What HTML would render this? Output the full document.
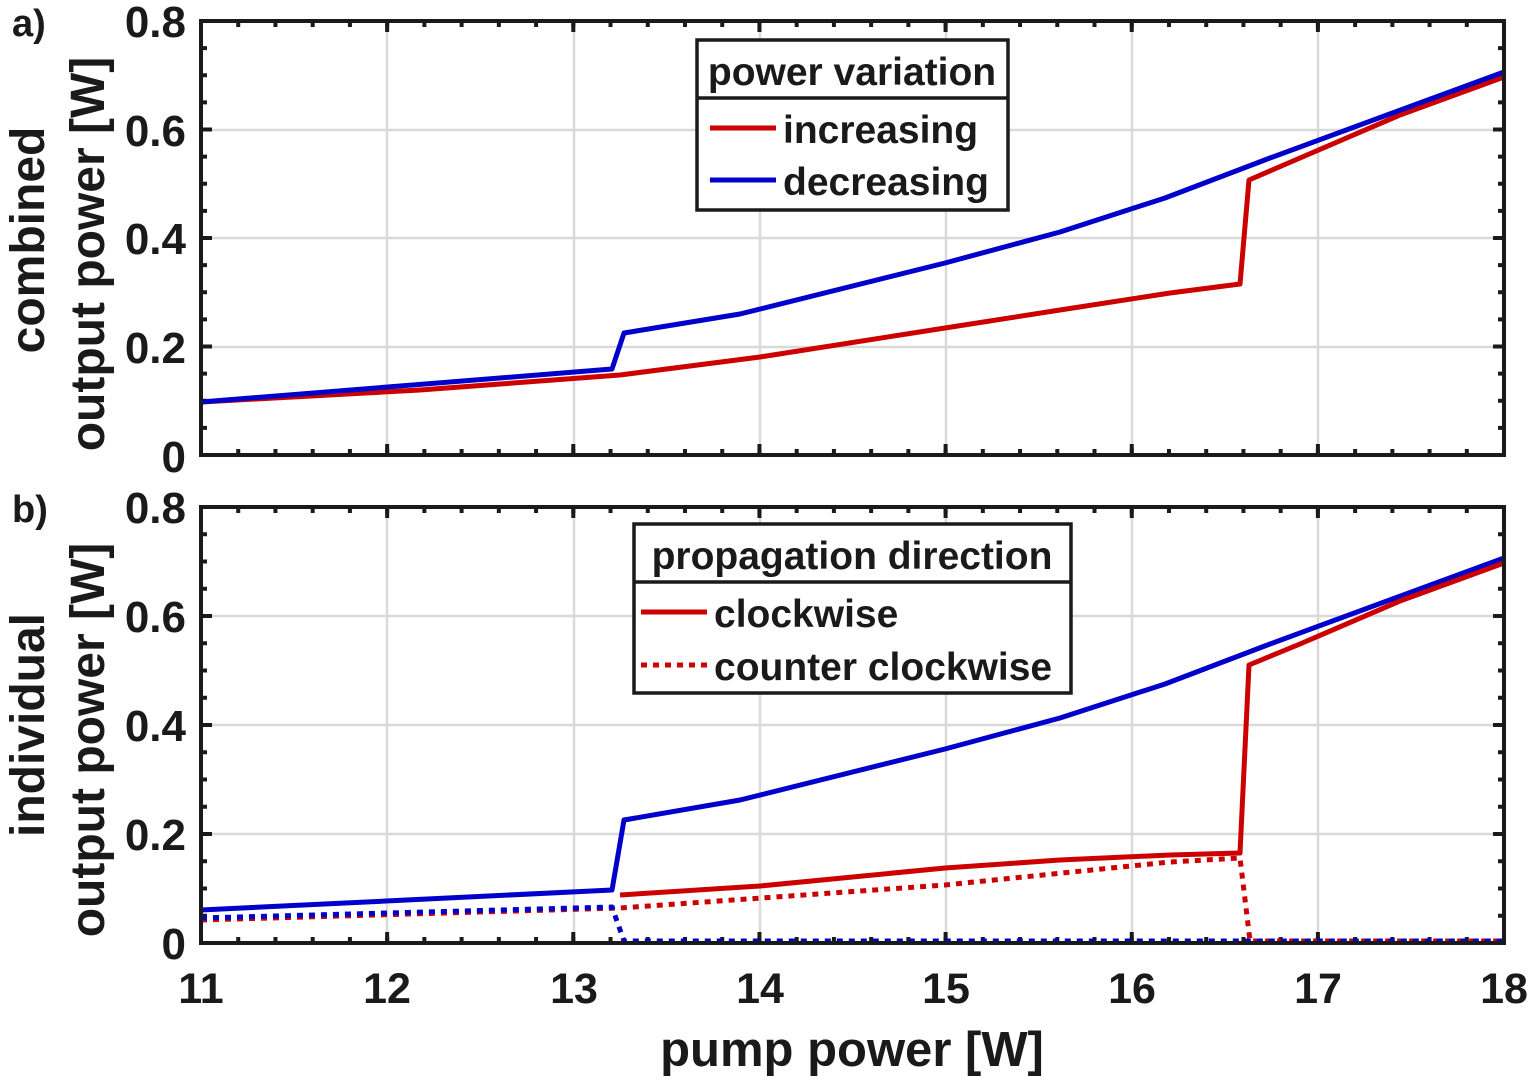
<!DOCTYPE html>
<html><head><meta charset="utf-8"><style>
html,body{margin:0;padding:0;background:#fff;}
svg text{font-family:"Liberation Sans",Arial,sans-serif;font-weight:bold;fill:#1a1a1a;}
</style></head><body>
<svg width="1534" height="1084" viewBox="0 0 1534 1084" xmlns="http://www.w3.org/2000/svg">
<g stroke="#d9d9d9" stroke-width="2.5">
  <line x1="387" y1="21" x2="387" y2="455"/><line x1="574" y1="21" x2="574" y2="455"/><line x1="760" y1="21" x2="760" y2="455"/><line x1="946" y1="21" x2="946" y2="455"/><line x1="1132" y1="21" x2="1132" y2="455"/><line x1="1318" y1="21" x2="1318" y2="455"/>
  <line x1="201" y1="347" x2="1504" y2="347"/><line x1="201" y1="238" x2="1504" y2="238"/><line x1="201" y1="130" x2="1504" y2="130"/>
  <line x1="387" y1="507" x2="387" y2="943"/><line x1="574" y1="507" x2="574" y2="943"/><line x1="760" y1="507" x2="760" y2="943"/><line x1="946" y1="507" x2="946" y2="943"/><line x1="1132" y1="507" x2="1132" y2="943"/><line x1="1318" y1="507" x2="1318" y2="943"/>
  <line x1="201" y1="834" x2="1504" y2="834"/><line x1="201" y1="725" x2="1504" y2="725"/><line x1="201" y1="616" x2="1504" y2="616"/>
</g>
<g stroke="#1a1a1a" fill="none">
  <line x1="199" y1="24" x2="1506" y2="24" stroke-width="6" stroke-dasharray="4 33.23"/>
  <line x1="199" y1="452" x2="1506" y2="452" stroke-width="6" stroke-dasharray="4 33.23"/>
  <line x1="199" y1="26.5" x2="1506" y2="26.5" stroke-width="11" stroke-dasharray="4 182.15"/>
  <line x1="199" y1="449.5" x2="1506" y2="449.5" stroke-width="11" stroke-dasharray="4 182.15"/>
  <line x1="199" y1="510" x2="1506" y2="510" stroke-width="6" stroke-dasharray="4 33.23"/>
  <line x1="199" y1="940" x2="1506" y2="940" stroke-width="6" stroke-dasharray="4 33.23"/>
  <line x1="199" y1="512.5" x2="1506" y2="512.5" stroke-width="11" stroke-dasharray="4 182.15"/>
  <line x1="199" y1="937.5" x2="1506" y2="937.5" stroke-width="11" stroke-dasharray="4 182.15"/>
  <line x1="204" y1="19" x2="204" y2="457" stroke-width="6" stroke-dasharray="4 23.125"/>
  <line x1="1501" y1="19" x2="1501" y2="457" stroke-width="6" stroke-dasharray="4 23.125"/>
  <line x1="206.5" y1="19" x2="206.5" y2="457" stroke-width="11" stroke-dasharray="4 104.5"/>
  <line x1="1498.5" y1="19" x2="1498.5" y2="457" stroke-width="11" stroke-dasharray="4 104.5"/>
  <line x1="204" y1="505" x2="204" y2="945" stroke-width="6" stroke-dasharray="4 23.25"/>
  <line x1="1501" y1="505" x2="1501" y2="945" stroke-width="6" stroke-dasharray="4 23.25"/>
  <line x1="206.5" y1="505" x2="206.5" y2="945" stroke-width="11" stroke-dasharray="4 105"/>
  <line x1="1498.5" y1="505" x2="1498.5" y2="945" stroke-width="11" stroke-dasharray="4 105"/>
</g>
<g fill="none" stroke-width="5" stroke-linejoin="round">
<polyline stroke="#cc0000" points="201,402 420,390 620,375 760,357 945,328 1060,310 1170,293 1240,284 1249,180 1300,158 1400,115 1504,77"/>
<polyline stroke="#0000cc" points="201,402 612,369 624,333 740,314 945,263 1060,232 1165,198 1270,158 1504,72"/>
<polyline stroke="#cc0000" stroke-dasharray="6,6" points="201,920 620,908 945,885 1170,862 1240,858 1250,941 1504,941"/>
<polyline stroke="#0000cc" stroke-dasharray="6,6" points="201,918 612,907 624,941 1504,941"/>
<polyline stroke="#0000cc" points="201,910 612,890 624,820 740,800 945,749 1060,718 1165,684 1270,644 1504,558"/>
<polyline stroke="#cc0000" points="620,895 760,886 945,868 1060,860 1170,855 1240,853 1249,665 1300,644 1400,601 1504,563"/>
</g>
<rect x="201" y="21" width="1303" height="434" fill="none" stroke="#1a1a1a" stroke-width="4"/>
<rect x="201" y="507" width="1303" height="436" fill="none" stroke="#1a1a1a" stroke-width="4"/>
<rect x="697" y="40" width="311" height="170" fill="#fff" stroke="#1a1a1a" stroke-width="3.5"/>
<line x1="697" y1="98" x2="1008" y2="98" stroke="#1a1a1a" stroke-width="3.5"/>
<text x="852" y="85" font-size="39" text-anchor="middle">power variation</text>
<line x1="710" y1="128" x2="776" y2="128" stroke="#cc0000" stroke-width="5"/>
<text x="783" y="143" font-size="39">increasing</text>
<line x1="710" y1="180" x2="776" y2="180" stroke="#0000cc" stroke-width="5"/>
<text x="783" y="195" font-size="39">decreasing</text>
<rect x="634" y="524" width="437" height="169" fill="#fff" stroke="#1a1a1a" stroke-width="3.5"/>
<line x1="634" y1="582" x2="1071" y2="582" stroke="#1a1a1a" stroke-width="3.5"/>
<text x="852" y="569" font-size="39" text-anchor="middle">propagation direction</text>
<line x1="641" y1="612" x2="707" y2="612" stroke="#cc0000" stroke-width="5"/>
<text x="714" y="627" font-size="39">clockwise</text>
<line x1="641" y1="665" x2="707" y2="665" stroke="#cc0000" stroke-width="5" stroke-dasharray="6,6"/>
<text x="714" y="680" font-size="39">counter clockwise</text>
<g font-size="44" text-anchor="end">
<text x="186" y="472">0</text><text x="186" y="363">0.2</text><text x="186" y="254">0.4</text><text x="186" y="146">0.6</text><text x="186" y="37">0.8</text>
<text x="186" y="959">0</text><text x="186" y="850">0.2</text><text x="186" y="741">0.4</text><text x="186" y="632">0.6</text><text x="186" y="523">0.8</text>
</g>
<g font-size="43" text-anchor="middle">
<text x="201" y="1003">11</text><text x="387" y="1003">12</text><text x="574" y="1003">13</text><text x="760" y="1003">14</text><text x="946" y="1003">15</text><text x="1132" y="1003">16</text><text x="1318" y="1003">17</text><text x="1504" y="1003">18</text>
</g>
<text x="852" y="1066" font-size="49" text-anchor="middle">pump power [W]</text>
<text x="12" y="36" font-size="38">a)</text>
<text x="12" y="522" font-size="38">b)</text>
<text transform="translate(44,240) rotate(-90)" font-size="48" text-anchor="middle">combined</text>
<text transform="translate(104,254) rotate(-90)" font-size="48" text-anchor="middle">output power [W]</text>
<text transform="translate(44,725) rotate(-90)" font-size="48" text-anchor="middle">individual</text>
<text transform="translate(104,740) rotate(-90)" font-size="48" text-anchor="middle">output power [W]</text>
</svg>
</body></html>
